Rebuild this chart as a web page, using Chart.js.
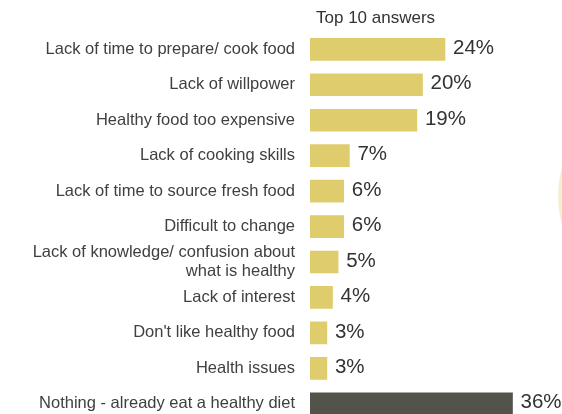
<!DOCTYPE html>
<html>
<head>
<meta charset="utf-8">
<script src="https://cdn.jsdelivr.net/npm/chart.js@4/dist/chart.umd.min.js"></script>
<style>
    html, body { margin: 0; padding: 0; background: #ffffff; overflow: hidden; }
    canvas { display: block; }
</style>
</head>
<body>
<canvas id="answersChart" width="562" height="446"></canvas>
<script>
// Survey answers, share of respondents (%)
const answerLabels = [
    'Lack of time to prepare/ cook food',
    'Lack of willpower',
    'Healthy food too expensive',
    'Lack of cooking skills',
    'Lack of time to source fresh food',
    'Difficult to change',
    ['Lack of knowledge/ confusion about', 'what is healthy'],
    'Lack of interest',
    "Don't like healthy food",
    'Health issues',
    'Nothing - already eat a healthy diet'
];
const answerValues = [24, 20, 19, 7, 6, 6, 5, 4, 3, 3, 36];
const headingText = 'Top 10 answers';

const barYellow = '#dfcc6d';
const barDark = '#54534b';
const textColor = '#404040';
const fontFamily = '"Liberation Sans", Arial, Helvetica, sans-serif';

// last row ("Nothing") is shown in the dark colour
const barColors = answerValues.map((v, i) => i === answerValues.length - 1 ? barDark : barYellow);

// Pale disc peeking in at the right edge
const backdrop = {
    id: 'backdrop',
    beforeDraw(chart) {
        const ctx = chart.ctx;
        ctx.save();
        ctx.fillStyle = '#f5efd2';
        ctx.beginPath();
        ctx.arc(661, 196, 103, 0, Math.PI * 2);
        ctx.fill();
        ctx.restore();
    }
};

// Value labels at the end of each bar
const valueLabels = {
    id: 'valueLabels',
    afterDatasetsDraw(chart) {
        const ctx = chart.ctx;
        const meta = chart.getDatasetMeta(0);
        ctx.save();
        ctx.font = '20.5px ' + fontFamily;
        ctx.fillStyle = '#333333';
        ctx.textAlign = 'left';
        ctx.textBaseline = 'middle';
        meta.data.forEach((bar, i) => {
            ctx.fillText(answerValues[i] + '%', bar.x + 8, bar.y - 1);
        });
        ctx.restore();
    }
};

// Small heading above the bars
const heading = {
    id: 'heading',
    afterDraw(chart) {
        const ctx = chart.ctx;
        ctx.save();
        ctx.font = '17px ' + fontFamily;
        ctx.fillStyle = '#333333';
        ctx.textAlign = 'left';
        ctx.textBaseline = 'middle';
        ctx.fillText(headingText, chart.chartArea.left + 6, 18);
        ctx.restore();
    }
};

const ctx = document.getElementById('answersChart').getContext('2d');
const answersChart = new Chart(ctx, {
    type: 'bar',
    data: {
        labels: answerLabels,
        datasets: [{
            data: answerValues,
            backgroundColor: barColors,
            borderWidth: 0,
            barThickness: 22
        }]
    },
    options: {
        indexAxis: 'y',
        responsive: false,
        animation: false,
        layout: {
            padding: { top: 31.6, right: 0, bottom: 0, left: 0 }
        },
        plugins: {
            legend: { display: false },
            tooltip: { enabled: false }
        },
        scales: {
            x: {
                display: false,
                min: 0,
                max: 44.8
            },
            y: {
                grid: { display: false, drawTicks: false },
                border: { display: false },
                afterFit(scale) {
                    scale.width = 310;
                },
                ticks: {
                    autoSkip: false,
                    padding: 15,
                    color: textColor,
                    font: { family: fontFamily, size: 16.5, lineHeight: 1.15 }
                }
            }
        }
    },
    plugins: [backdrop, valueLabels, heading]
});
</script>
</body>
</html>
